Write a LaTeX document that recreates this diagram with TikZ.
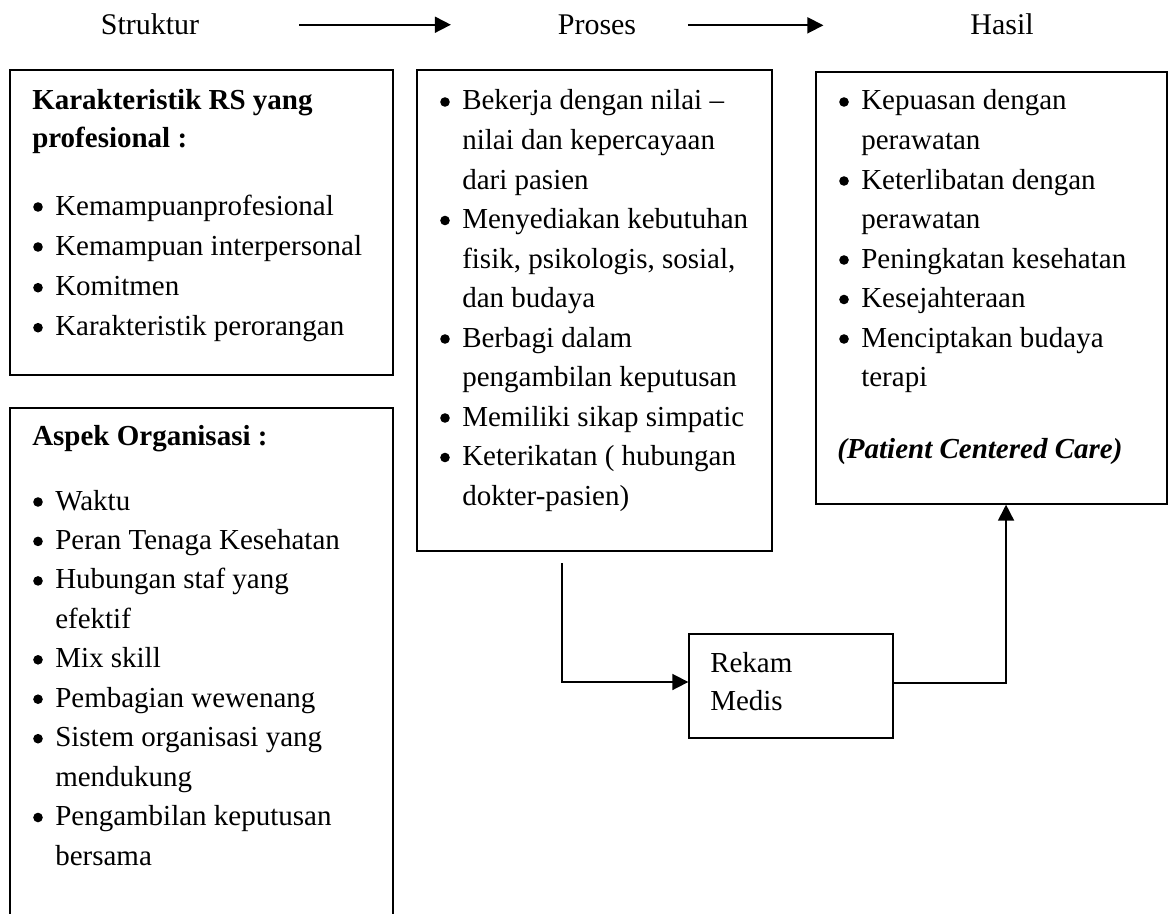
\documentclass[tikz,border=0pt]{standalone}
\usepackage{fontspec}
\setmainfont{Liberation Serif}
\usetikzlibrary{arrows.meta,fit}
\tikzset{
  x=0.75pt, y=-0.75pt,
  box/.style={draw, line width=1pt, inner sep=0pt, fit={#1}},
  txt/.style={anchor=base west, inner sep=0pt, font=\fontsize{21.75pt}{26pt}\selectfont},
  hd/.style={txt, font=\fontsize{21.75pt}{26pt}\selectfont\bfseries},
  lbl/.style={anchor=base, inner sep=0pt, font=\fontsize{22.5pt}{26pt}\selectfont},
  arr/.style={line width=1.3pt, -{Triangle[length=12pt,width=12pt]}},
}
\newcommand{\bitem}[4]{\fill (#2+28,#3-8) circle (3.6pt); \node[txt] (#1) at (#2+45,#3) {#4};}
\newcommand{\bcont}[4]{\node[txt] (#1) at (#2+45,#3) {#4};}
\begin{document}
\begin{tikzpicture}
\useasboundingbox (0,0) rectangle (1173,913);
\clip (0,0) rectangle (1173,913);

% column titles
\node[lbl] (struk) at (150,35) {Struktur};
\node[lbl] (pros) at (597,35) {Proses};
\node[lbl] (hasl) at (1002,35) {Hasil};
\draw[arr, shorten <=75pt, shorten >=80pt] (struk.east) -- (struk.east -| pros.west);
\draw[arr, shorten <=38.5pt, shorten >=110pt] (pros.east) -- (pros.east -| hasl.west);

% boxes
\node[box={(10,70) (393,375)}] (kar) {};
\node[box={(10,408) (393,940)}] (asp) {};
\node[box={(417,70) (772,551)}] (pro) {};
\node[box={(816,72) (1167,504)}] (has) {};
\node[box={(689,634) (893,738)}] (rek) {};

% Karakteristik
\node[hd] (k0) at (32,110) {Karakteristik RS yang};
\node[hd] (k1) at (32,147) {profesional :};
\bitem{k2}{10}{215}{Kemampuanprofesional}
\bitem{k3}{10}{255}{Kemampuan interpersonal}
\bitem{k4}{10}{295.7}{Komitmen}
\bitem{k5}{10}{335.7}{Karakteristik perorangan}

% Aspek Organisasi
\node[hd] (a0) at (32,445) {Aspek Organisasi :};
\bitem{a1}{10}{510}{Waktu}
\bitem{a2}{10}{549.4}{Peran Tenaga Kesehatan}
\bitem{a3}{10}{588.9}{Hubungan staf yang}
\bcont{a4}{10}{628.3}{efektif}
\bitem{a5}{10}{667.8}{Mix skill}
\bitem{a6}{10}{707.2}{Pembagian wewenang}
\bitem{a7}{10}{746.7}{Sistem organisasi yang}
\bcont{a8}{10}{786.1}{mendukung}
\bitem{a9}{10}{825.5}{Pengambilan keputusan}
\bcont{a10}{10}{865}{bersama}

% Proses
\bitem{p1}{417}{110}{Bekerja dengan nilai –}
\bcont{p2}{417}{149.5}{nilai dan kepercayaan}
\bcont{p3}{417}{189}{dari pasien}
\bitem{p4}{417}{228.5}{Menyediakan kebutuhan}
\bcont{p5}{417}{268}{fisik, psikologis, sosial,}
\bcont{p6}{417}{307.5}{dan budaya}
\bitem{p7}{417}{347}{Berbagi dalam}
\bcont{p8}{417}{386.5}{pengambilan keputusan}
\bitem{p9}{417}{426}{Memiliki sikap simpatic}
\bitem{p10}{417}{465.5}{Keterikatan ( hubungan}
\bcont{p11}{417}{505}{dokter-pasien)}

% Hasil
\bitem{h1}{816}{110}{Kepuasan dengan}
\bcont{h2}{816}{149.5}{perawatan}
\bitem{h3}{816}{189}{Keterlibatan dengan}
\bcont{h4}{816}{228.5}{perawatan}
\bitem{h5}{816}{268}{Peningkatan kesehatan}
\bitem{h6}{816}{307.5}{Kesejahteraan}
\bitem{h7}{816}{347}{Menciptakan budaya}
\bcont{h8}{816}{386.5}{terapi}
\node[txt, font=\fontsize{21.75pt}{26pt}\selectfont\bfseries\itshape] (h9) at (837,458) {(Patient Centered Care)};

% Rekam Medis
\node[txt] (r1) at (710,672) {Rekam};
\node[txt] (r2) at (710,710) {Medis};

% connectors
\coordinate (c1) at (562,563);
\draw[arr] (c1) |- ([yshift=3pt]rek.west);
\draw[arr] ([yshift=2.25pt]rek.east) -| ([xshift=10.9pt]has.south);
\end{tikzpicture}
\end{document}
